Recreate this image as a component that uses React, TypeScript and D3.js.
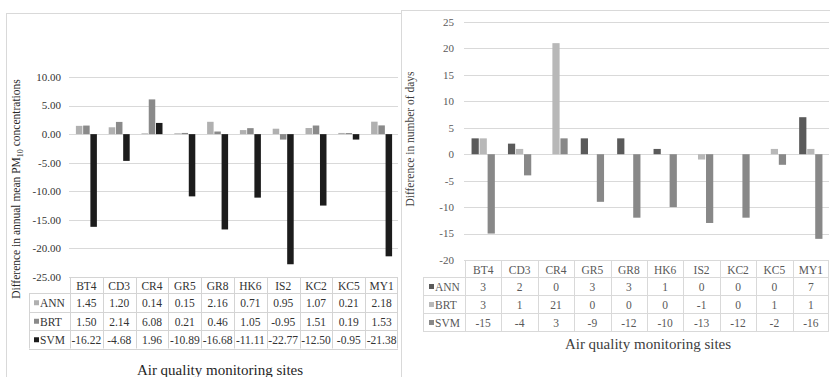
import React, { useEffect, useRef } from "react";
import * as d3 from "d3";

const sites = ["BT4", "CD3", "CR4", "GR5", "GR8", "HK6", "IS2", "KC2", "KC5", "MY1"];
const seriesNames = ["ANN", "BRT", "SVM"];

// left: difference in annual mean PM10
const pmAnn = [1.45, 1.2, 0.14, 0.15, 2.16, 0.71, 0.95, 1.07, 0.21, 2.18];
const pmBrt = [1.5, 2.14, 6.08, 0.21, 0.46, 1.05, -0.95, 1.51, 0.19, 1.53];
const pmSvm = [-16.22, -4.68, 1.96, -10.89, -16.68, -11.11, -22.77, -12.5, -0.95, -21.38];
const pmTicks = [-25, -20, -15, -10, -5, 0, 5, 10];

// right: difference in number of days
const dayAnn = [3, 2, 0, 3, 3, 1, 0, 0, 0, 7];
const dayBrt = [3, 1, 21, 0, 0, 0, -1, 0, 1, 1];
const daySvm = [-15, -4, 3, -9, -12, -10, -13, -12, -2, -16];
const dayTicks = [-20, -15, -10, -5, 0, 5, 10, 15, 20, 25];

const FONT = "'Liberation Serif', 'Times New Roman', serif";

// d3.format gives a unicode minus, the chart uses a plain hyphen
const hyphen = (f) => (d) => f(d).replace("\u2212", "-");

function drawPanel(svg, cfg) {
  const g = svg.append("g");

  g.append("rect")
    .attr("x", cfg.box[0] + 0.5)
    .attr("y", cfg.box[1] + 0.5)
    .attr("width", cfg.box[2])
    .attr("height", cfg.box[3])
    .attr("fill", "#fff")
    .attr("stroke", "#d9d9d9")
    .attr("stroke-width", 1);

  const x = d3.scaleBand().domain(sites).range(cfg.xRange).padding(0);
  const y = d3.scaleLinear().domain(cfg.yDomain).range(cfg.yRange);
  const bw = x.bandwidth();
  const inner = d3
    .scaleBand()
    .domain(seriesNames)
    .range([bw * 0.18, bw * 0.82])
    .paddingInner(0.1);

  // gridlines
  g.selectAll(".grid")
    .data(cfg.ticks)
    .enter()
    .append("line")
    .attr("x1", cfg.xRange[0] - 1)
    .attr("x2", cfg.xRange[1])
    .attr("y1", (d) => Math.round(y(d)) + 0.5)
    .attr("y2", (d) => Math.round(y(d)) + 0.5)
    .attr("stroke", "#d9d9d9")
    .attr("stroke-width", 1);

  // tick labels
  g.selectAll(".ytick")
    .data(cfg.ticks)
    .enter()
    .append("text")
    .attr("x", cfg.tickX)
    .attr("y", (d) => y(d))
    .attr("dy", "0.35em")
    .attr("text-anchor", "end")
    .style("font-family", FONT)
    .style("font-size", "11px")
    .style("fill", cfg.textColor)
    .text((d) => cfg.tickFormat(d));

  // bars
  seriesNames.forEach((s, si) => {
    g.selectAll(".bar-" + s)
      .data(cfg.values[si])
      .enter()
      .append("rect")
      .attr("x", (d, i) => x(sites[i]) + inner(s))
      .attr("width", inner.bandwidth())
      .attr("y", (d) => Math.min(y(d), y(0)))
      .attr("height", (d) => Math.abs(y(d) - y(0)))
      .attr("fill", cfg.colors[si]);
  });

  // data table
  const top = cfg.tableTop;
  const hh = cfg.headerH;
  const rh = cfg.rowH;
  const left = cfg.labelLeft;
  const x0 = cfg.xRange[0];
  const x1 = cfg.xRange[1];
  const bottom = top + hh + rh * 3;
  const tbl = g.append("g").attr("stroke", cfg.tableLine).attr("stroke-width", 1);

  // horizontal lines
  tbl.append("line").attr("x1", x0).attr("x2", x1).attr("y1", top + 0.5).attr("y2", top + 0.5);
  [0, 1, 2, 3].forEach((k) => {
    const yy = Math.round(top + hh + rh * k) + 0.5;
    tbl.append("line").attr("x1", left).attr("x2", x1).attr("y1", yy).attr("y2", yy);
  });
  // vertical lines
  tbl.append("line").attr("x1", left + 0.5).attr("x2", left + 0.5).attr("y1", top + hh).attr("y2", bottom);
  sites.forEach((s) => {
    const xx = Math.round(x(s)) + 0.5;
    tbl.append("line").attr("x1", xx).attr("x2", xx).attr("y1", top).attr("y2", bottom);
  });
  tbl.append("line").attr("x1", x1 - 0.5).attr("x2", x1 - 0.5).attr("y1", top).attr("y2", bottom);

  g.selectAll(".head")
    .data(sites)
    .enter()
    .append("text")
    .attr("x", (d) => x(d) + bw / 2)
    .attr("y", top + hh / 2 + 1)
    .attr("dy", "0.35em")
    .attr("text-anchor", "middle")
    .style("font-family", FONT)
    .style("font-size", "11.5px")
    .style("fill", cfg.textColor)
    .text((d) => d);

  seriesNames.forEach((s, si) => {
    const cy = top + hh + rh * si + rh / 2 + 1;
    g.append("rect")
      .attr("x", left + cfg.keyOffset)
      .attr("y", cy - 3)
      .attr("width", 5)
      .attr("height", 5)
      .attr("fill", cfg.colors[si]);
    g.append("text")
      .attr("x", left + cfg.keyOffset + 6)
      .attr("y", cy)
      .attr("dy", "0.35em")
      .style("font-family", FONT)
      .style("font-size", "11.5px")
      .style("fill", cfg.textColor)
      .text(s);
    g.selectAll(".cell-" + s)
      .data(cfg.values[si])
      .enter()
      .append("text")
      .attr("x", (d, i) => x(sites[i]) + bw / 2)
      .attr("y", cy)
      .attr("dy", "0.35em")
      .attr("text-anchor", "middle")
      .style("font-family", FONT)
      .style("font-size", "11.5px")
      .style("fill", cfg.textColor)
      .text((d) => cfg.cellFormat(d));
  });

  // axis titles
  g.append("text")
    .attr("x", cfg.xTitle[0])
    .attr("y", cfg.xTitle[1])
    .attr("text-anchor", "middle")
    .style("font-family", FONT)
    .style("font-size", "15px")
    .style("fill", cfg.titleColor)
    .text("Air quality monitoring sites");

  const yt = g
    .append("text")
    .attr("transform", `translate(${cfg.yTitle[0]},${cfg.yTitle[1]}) rotate(-90)`)
    .attr("text-anchor", "middle")
    .attr("dy", "0.35em")
    .style("font-family", FONT)
    .style("font-size", "11.5px")
    .style("fill", cfg.titleColor);
  cfg.yTitleParts.forEach((p) => {
    const t = yt.append("tspan").text(p.text);
    if (p.sub) t.style("font-size", "8px").attr("dy", "3");
    if (p.after) t.attr("dy", "-3");
  });
}

const App = () => {
  const ref = useRef(null);

  useEffect(() => {
    const svg = d3
      .select(ref.current)
      .append("svg")
      .attr("width", 830)
      .attr("height", 377)
      .style("display", "block");

    svg.append("rect").attr("width", 830).attr("height", 377).attr("fill", "#fff");

    drawPanel(svg, {
      box: [6, 13, 395, 380],
      xRange: [70, 398],
      yDomain: [-25, 10],
      yRange: [277, 77],
      ticks: pmTicks,
      tickX: 61,
      tickFormat: hyphen(d3.format(".2f")),
      cellFormat: hyphen(d3.format(".2f")),
      values: [pmAnn, pmBrt, pmSvm],
      colors: ["#b0b0b0", "#8a8a8a", "#1c1c1c"],
      textColor: "#333",
      titleColor: "#262626",
      tableLine: "#d4d4d4",
      tableTop: 277,
      headerH: 16,
      rowH: 18.5,
      labelLeft: 29,
      keyOffset: 5,
      xTitle: [220, 375],
      yTitle: [16, 189],
      yTitleParts: [
        { text: "Difference in annual mean PM" },
        { text: "10", sub: true },
        { text: " concentrations", after: true },
      ],
    });

    drawPanel(svg, {
      box: [401, 10, 440, 380],
      xRange: [465, 829],
      yDomain: [-20, 25],
      yRange: [260, 22],
      ticks: dayTicks,
      tickX: 454,
      tickFormat: hyphen(d3.format("d")),
      cellFormat: hyphen(d3.format("d")),
      values: [dayAnn, dayBrt, daySvm],
      colors: ["#5a5a5a", "#b8b8b8", "#888888"],
      textColor: "#595959",
      titleColor: "#404040",
      tableLine: "#d9d9d9",
      tableTop: 260,
      headerH: 17,
      rowH: 18,
      labelLeft: 423,
      keyOffset: 6,
      xTitle: [648, 349],
      yTitle: [410, 139],
      yTitleParts: [{ text: "Difference in number of days" }],
    });

    return () => {
      svg.remove();
    };
  }, []);

  return <div ref={ref} style={{ position: "absolute", left: 0, top: 0 }}></div>;
};

export default App;
